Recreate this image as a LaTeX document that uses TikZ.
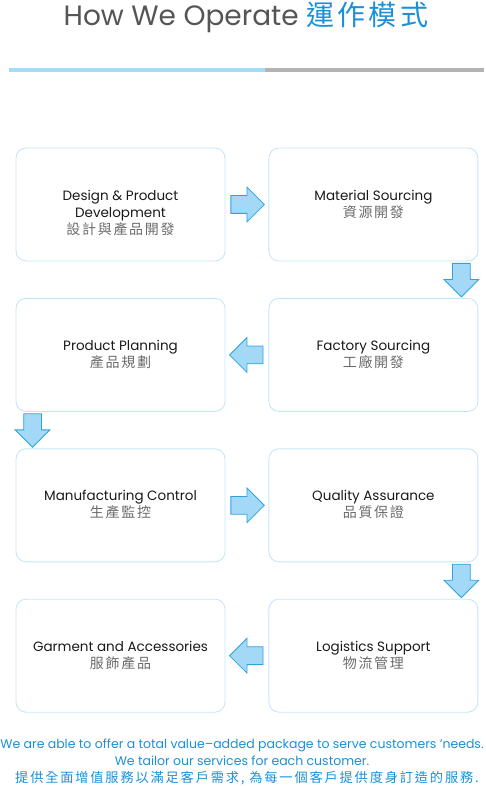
\documentclass[tikz,border=0pt]{standalone}
\usepackage{fontspec}
\setmainfont{Poppins}
\newfontfamily\cjk[LetterSpace=12]{Noto Sans CJK TC}
\newfontfamily\cjkwide[LetterSpace=14]{Noto Sans CJK TC}
\usetikzlibrary{positioning, shapes.arrows, calc}
\definecolor{titlegray}{HTML}{555555}
\definecolor{brandblue}{HTML}{1A90D8}
\definecolor{barblue}{HTML}{A6DBF7}
\definecolor{bargray}{HTML}{B3B3B3}
\definecolor{boxline}{HTML}{C5E6F7}
\definecolor{arrowfill}{HTML}{A3D8F6}
\definecolor{arrowline}{HTML}{2BA4E0}
\definecolor{cngray}{HTML}{6B6B6B}
\tikzset{
    stage/.style={rectangle, draw=boxline, line width=0.9pt, rounded corners=10pt, minimum width=209pt, minimum height=113pt},
    stagetext/.style={align=center, inner sep=0pt, text=black!90, font=\fontsize{13.5}{17}\selectfont},
    flowarrow/.style={single arrow, draw=arrowline, fill=arrowfill, line width=0.8pt, minimum height=33.5pt, single arrow head extend=8.5pt, inner sep=8.5pt, anchor=tail},
    slogan/.style={align=center, inner sep=0pt, text=brandblue, font=\fontsize{12.5}{17}\selectfont},
}
\newcommand{\cntext}[1]{{\fontsize{14}{17}\cjk\color{cngray}#1}}

\begin{document}
\begin{tikzpicture}[x=1pt, y=1pt, node distance=36.5pt and 43pt]
\useasboundingbox (0,0) rectangle (485,-786);

% Title and rule
\node[text=titlegray, font=\fontsize{28}{32}\selectfont, inner sep=0pt] (title) at (246,-17) {How We Operate \textcolor{brandblue}{\cjk 運作模式}};
\draw[barblue, line width=4pt] (9,-70) -- (265,-70);
\draw[bargray, line width=4pt] (265,-70) -- (484,-70);

% Stages
\node[stage] (design) at (120.5,-204.5) {};
\node[stage, right=of design] (material) {};
\node[stage, below=of material] (factory) {};
\node[stage, below=of design] (planning) {};
\node[stage, below=of planning] (manufacturing) {};
\node[stage, right=of manufacturing] (quality) {};
\node[stage, below=of quality] (logistics) {};
\node[stage, left=of logistics] (garment) {};

% Stage texts
\node[stagetext, below=42pt of design.north] (designtxt) {Design \& Product\\Development\\\cntext{設計與產品開發}};
\node[stagetext, below=42pt of material.north] (materialtxt) {Material Sourcing\\\cntext{資源開發}};
\node[stagetext, below=42pt of factory.north] (factorytxt) {Factory Sourcing\\\cntext{工廠開發}};
\node[stagetext, below=42pt of planning.north] (planningtxt) {Product Planning\\\cntext{產品規劃}};
\node[stagetext, below=42pt of manufacturing.north] (manufacturingtxt) {Manufacturing Control\\\cntext{生產監控}};
\node[stagetext, below=42pt of quality.north] (qualitytxt) {Quality Assurance\\\cntext{品質保證}};
\node[stagetext, below=42pt of logistics.north] (logisticstxt) {Logistics Support\\\cntext{物流管理}};
\node[stagetext, below=42pt of garment.north] (garmenttxt) {Garment and Accessories\\\cntext{服飾產品}};

% Flow arrows
\node[flowarrow] (step1) at ($(design.east)+(5,0)$) {};
\node[flowarrow, shape border rotate=270] (step2) at ($(material.south east)+(-17,-1.5)$) {};
\node[flowarrow, shape border rotate=180] (step3) at ($(factory.west)+(-5,0)$) {};
\node[flowarrow, shape border rotate=270] (step4) at ($(planning.south west)+(17,-1.5)$) {};
\node[flowarrow] (step5) at ($(manufacturing.east)+(5,0)$) {};
\node[flowarrow, shape border rotate=270] (step6) at ($(quality.south east)+(-17,-1.5)$) {};
\node[flowarrow, shape border rotate=180] (step7) at ($(logistics.west)+(-5,0)$) {};

% Footer
\node[slogan] (footer) at (242,-762) {We are able to offer a total value–added package to serve customers ’needs.\\We tailor our services for each customer.\\\hspace*{10pt}{\fontsize{13.2}{17}\cjkwide 提供全面增值服務以滿足客戶需求, 為每一個客戶提供度身訂造的服務.}};

\end{tikzpicture}
\end{document}
